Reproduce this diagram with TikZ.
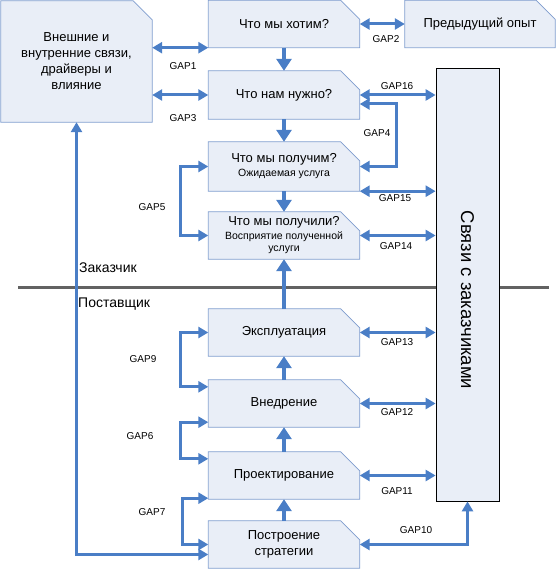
\documentclass[tikz,border=0pt]{standalone}
\usepackage{fontspec}
\setmainfont{Liberation Sans}
\usetikzlibrary{arrows.meta}
\definecolor{boxfill}{RGB}{233,238,247}
\definecolor{boxline}{RGB}{126,156,206}
\definecolor{gapblue}{RGB}{74,126,198}
\definecolor{divgray}{RGB}{98,98,98}
\newcommand\subline[1]{{\fontsize{10.5}{12}\selectfont #1}}
% cut the north east corner of a stage box
\newcommand\snipcorner[1]{%
  \fill[white] ([xshift=-20pt,yshift=1pt]#1.north east) -- ([xshift=1pt,yshift=1pt]#1.north east)
    -- ([xshift=1pt,yshift=-20pt]#1.north east) -- cycle;
  \draw[boxline, line width=0.8pt] (#1.south west) -- (#1.north west)
    -- ([xshift=-19pt]#1.north east) -- ([yshift=-19pt]#1.north east) -- (#1.south east) -- cycle;}
\tikzset{
  stage/.style={rectangle, fill=boxfill, inner sep=0pt,
    minimum width=151pt, minimum height=47pt, align=center,
    font=\fontsize{13}{16}\selectfont},
  gap/.style={draw=gapblue, line width=3pt, line join=miter,
    {Triangle[length=10pt,width=11pt]}-{Triangle[length=10pt,width=11pt]}},
  flow/.style={draw=gapblue, line width=4.5pt, -{Triangle[length=12pt,width=15pt]}},
  gaplabel/.style={font=\fontsize{10}{12}\selectfont, inner sep=0pt},
  side/.style={font=\fontsize{14}{16}\selectfont, inner sep=0pt, anchor=west},
}
\begin{document}
\begin{tikzpicture}[x=1pt,y=-1pt]
  \useasboundingbox (0,0) rectangle (557,569);
  \draw[divgray, line width=3pt] (18,287) -- (549,287);
  \node[stage, minimum width=151pt, minimum height=121pt] (ext) at (76.5,61.5)
    {Внешние и\\внутренние связи,\\драйверы и\\влияние};
  \node[stage] (want) at (284,24) {Что мы хотим?};
  \node[stage, minimum width=150pt] (prev) at (480,24) {Предыдущий опыт};
  \node[stage, minimum height=48pt] (need) at (284,95) {Что нам нужно?};
  \node[stage, minimum height=49pt] (expect) at (284,166.5)
    {Что мы получим?\\[-2pt]\subline{Ожидаемая услуга}};
  \node[stage] (got) at (284,235.5)
    {Что мы получили?\\[-2pt]\subline{Восприятие полученной}\\[-4pt]\subline{услуги}};
  \node[stage] (ops) at (284,332.5) {Эксплуатация};
  \node[stage] (impl) at (284,403.5) {Внедрение};
  \node[stage] (design) at (284,475.5) {Проектирование};
  \node[stage] (strat) at (284,544.5) {Построение\\стратегии};
  \foreach \n in {ext,want,prev,need,expect,got,ops,impl,design,strat}
    {\snipcorner{\n}}
  \node[draw=black, fill=boxfill, line width=0.8pt, inner sep=0pt,
    minimum width=63pt, minimum height=433pt] (links) at (467.5,284.5) {};
  \node[rotate=-90, font=\fontsize{18.5}{20}\selectfont] (linkstext) at (467.5,300)
    {Связи с заказчиками};
  \node[side] (client) at (79,268) {Заказчик};
  \node[side] (supplier) at (78,304) {Поставщик};
  \begin{scope}[flow]
    \draw (want.south) -- (need.north);
    \draw (need.south) -- (expect.north);
    \draw (expect.south) -- (got.north);
    \draw (ops.north) -- (got.south);
    \draw (impl.north) -- (ops.south);
    \draw (design.north) -- (impl.south);
    \draw (strat.north) -- (design.south);
  \end{scope}
  \begin{scope}[gap]
    \draw (ext.east |- want.south) -- (want.south west);
    \draw (want.east) -- (prev.west);
    \draw (ext.east |- need.west) -- (need.west);
    \draw ([yshift=-9pt]need.east) -- ++(37,0) |- (expect.east);
    \draw (expect.west) -- ++(-28,0) |- (got.west);
    \draw (ops.west) -- ++(-28,0) |- ([yshift=-7pt]impl.north west);
    \draw ([yshift=5pt]impl.south west) -- ++(-28,0) |- ([yshift=-7pt]design.north west);
    \draw ([yshift=1pt]design.south west) -- ++(-26,0) |- (strat.west);
    \draw (need.east) -- (links.west |- need.east);
    \draw (expect.south east) -- (links.west |- expect.south east);
    \draw (got.east) -- (links.west |- got.east);
    \draw (ops.east) -- (links.west |- ops.east);
    \draw (impl.east) -- (links.west |- impl.east);
    \draw (design.east) -- (links.west |- design.east);
    \draw (strat.east) -| (links.south);
    \draw ([yshift=-10pt]strat.west) -| (ext.south);
  \end{scope}
  \node[gaplabel] (gap1) at (183,66) {GAP1};
  \node[gaplabel] (gap2) at (386,39) {GAP2};
  \node[gaplabel] (gap3) at (183,118) {GAP3};
  \node[gaplabel] (gap4) at (377,133) {GAP4};
  \node[gaplabel] (gap5) at (152,207) {GAP5};
  \node[gaplabel] (gap6) at (140,436) {GAP6};
  \node[gaplabel] (gap7) at (152,512) {GAP7};
  \node[gaplabel] (gap9) at (143,359) {GAP9};
  \node[gaplabel] (gap10) at (416,530) {GAP10};
  \node[gaplabel] (gap11) at (397,491) {GAP11};
  \node[gaplabel] (gap12) at (397,412) {GAP12};
  \node[gaplabel] (gap13) at (397,342) {GAP13};
  \node[gaplabel] (gap14) at (396,246) {GAP14};
  \node[gaplabel] (gap15) at (395,198) {GAP15};
  \node[gaplabel] (gap16) at (397,86) {GAP16};
\end{tikzpicture}
\end{document}
